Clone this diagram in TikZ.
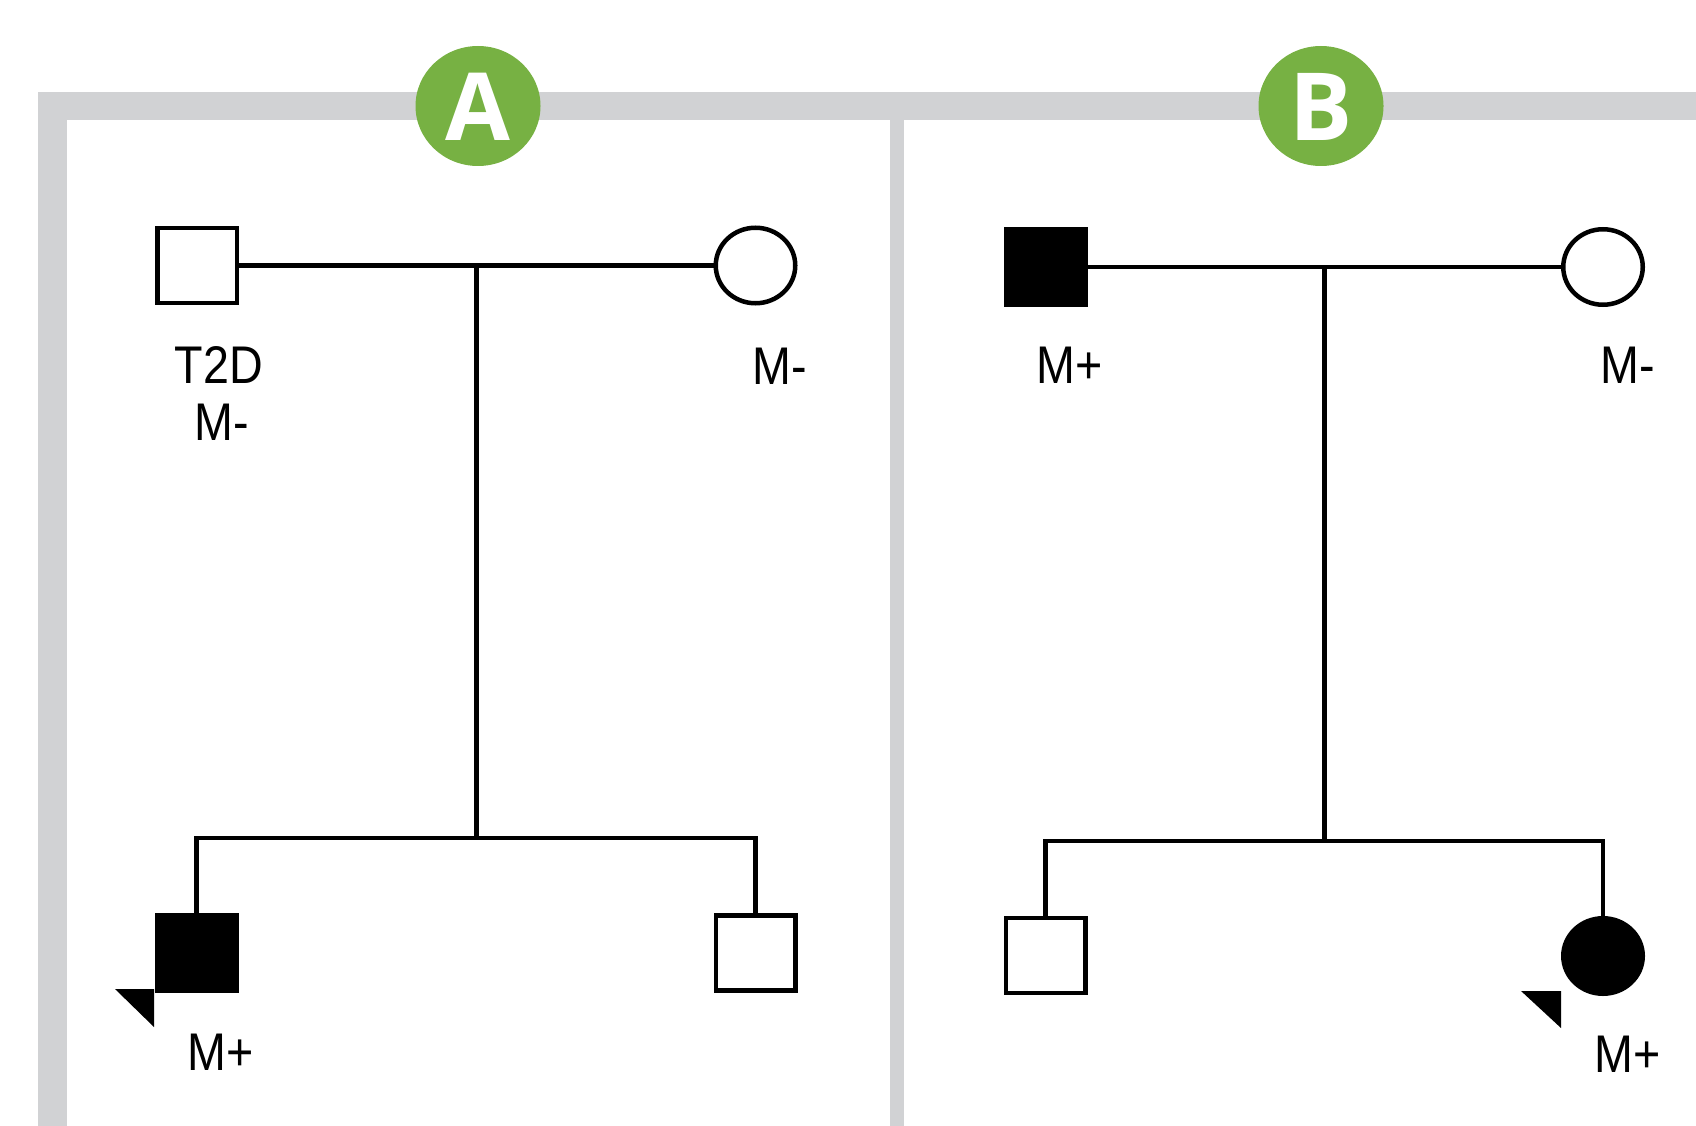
\documentclass[tikz,border=0pt]{standalone}
\usepackage{fontspec}
\setmainfont{Liberation Sans}
\newfontfamily\badgefont{Open Sans}
\usetikzlibrary{shapes.geometric,calc}
\definecolor{framegrey}{HTML}{D1D2D4}
\definecolor{badgegreen}{HTML}{77B143}
\newcommand{\narrow}[1]{\scalebox{0.88}[1]{#1}}
\begin{document}
\begin{tikzpicture}[x=1pt,y=-1pt,line width=4.5pt,
  male/.style={draw,rectangle,minimum width=79.5pt,minimum height=75pt,inner sep=0pt,fill=white},
  female/.style={draw,ellipse,minimum width=79.5pt,minimum height=75.5pt,inner sep=0pt,fill=white},
  affected/.style={fill=black},
  link/.style={draw,line width=4.5pt,line join=miter},
  lbl/.style={anchor=base,inner sep=0pt,font=\fontsize{53}{53}\selectfont},
  badge/.style={ellipse,fill=badgegreen,minimum width=125pt,minimum height=120pt,inner sep=0pt},
  badgeletter/.style={anchor=base,inner sep=0pt,text=white,font=\badgefont\bfseries\fontsize{94}{94}\selectfont}]
\useasboundingbox (0,0) rectangle (1696,1126);

% grey panel frame
\fill[framegrey] (38,92) rectangle (1696,120);
\fill[framegrey] (38,92) rectangle (67,1126);
\fill[framegrey] (890,92) rectangle (904,1126);

% panel badges
\node[badge] (bA) at (478,106) {};
\node[badgeletter] (bAt) at (478,141) {A};
\node[badge] (bB) at (1321,106) {};
\node[badgeletter] (bBt) at (1321,141) {B};

% ---- family A ----
\node[male] (fA) at (197,265.5) {};
\node[female] (mA) at (755.5,265.5) {};
\node[male,affected] (cA1) at (196.5,953) {};
\node[male] (cA2) at (755.5,953) {};
\coordinate (jA) at ($(fA)!0.5!(mA)$);
\coordinate (sA) at (jA |- 0,838);
\draw[link] (fA) -- (mA);
\draw[link] (jA) -- (sA);
\draw[link] (cA1.north) |- (sA) -| (cA2.north);
\fill (115,989) -- (154,989) -- (154,1027) -- cycle;

\node[lbl] (tA1) at (219,383) {\narrow{T2D}};
\node[lbl] (tA2) at (222,440) {\narrow{M-}};
\node[lbl] (tA3) at (780,384) {\narrow{M-}};
\node[lbl] (tA4) at (221,1070) {\narrow{M+}};

% ---- family B ----
\node[male,affected] (fB) at (1046,267) {};
\node[female] (mB) at (1603,267) {};
\node[male] (cB1) at (1045.5,955.5) {};
\node[female,affected] (cB2) at (1603,956) {};
\coordinate (jB) at ($(fB)!0.5!(mB)$);
\coordinate (sB) at (jB |- 0,841);
\draw[link] (fB) -- (mB);
\draw[link] (jB) -- (sB);
\draw[link] (cB1.north) |- (sB) -| (cB2.north);
\fill (1521,991) -- (1561,991) -- (1561,1028) -- cycle;

\node[lbl] (tB1) at (1070,383) {\narrow{M+}};
\node[lbl] (tB2) at (1628,383) {\narrow{M-}};
\node[lbl] (tB3) at (1628,1072) {\narrow{M+}};
\end{tikzpicture}
\end{document}
